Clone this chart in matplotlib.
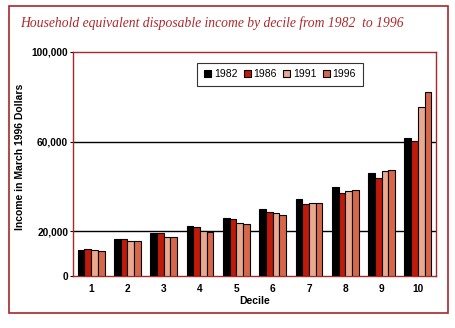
import matplotlib
matplotlib.use("Agg")
import matplotlib.pyplot as plt
import numpy as np
from matplotlib.patches import Rectangle

deciles = ["1", "2", "3", "4", "5", "6", "7", "8", "9", "10"]
years = ["1982", "1986", "1991", "1996"]
v1982 = [11700, 16600, 19200, 22400, 25900, 29800, 34400, 39600, 46200, 61800]
v1986 = [12100, 16600, 19200, 21800, 25300, 28400, 32000, 37000, 43900, 60400]
v1991 = [11600, 15600, 17400, 20000, 23700, 28000, 32400, 38100, 46700, 75400]
v1996 = [11100, 15600, 17400, 19700, 23200, 27400, 32400, 38500, 47400, 82200]
yticks = [0, 20000, 60000, 100000]
ytick_labels = ["0", "20,000", "60,000", "100,000"]
colors = ["#000000", "#c01a0a", "#eaa88e", "#d8674a"]
frame_red = "#a8282a"

fig = plt.figure(figsize=(4.55, 3.28), dpi=100)
fig.patch.set_facecolor("white")

# outer frame
fig.patches.append(Rectangle((9/455, 1-313/328), (448-9)/455, (313-6)/328,
                             transform=fig.transFigure, fill=False,
                             edgecolor=frame_red, linewidth=1.2))

fig.text(20/455, 1-23/328, "Household equivalent disposable income by decile from 1982  to 1996",
         family="Liberation Serif", style="italic", color="#b0282a", fontsize=9.8,
         va="center", ha="left")

ax = fig.add_axes([73/455, 1-276/328, 363/455, 224/328])
x = np.arange(len(deciles))
w = 0.185
series = [v1982, v1986, v1991, v1996]
for i, (vals, c, yr) in enumerate(zip(series, colors, years)):
    ax.bar(x + (i - 1.5) * w, vals, w, color=c, edgecolor="black", linewidth=0.8,
           label=yr, zorder=3)

ax.set_xlim(-0.5, len(deciles) - 0.5)
ax.set_ylim(0, 100000)
ax.set_yticks(yticks)
ax.set_yticklabels(ytick_labels)
ax.set_xticks(x)
ax.set_xticklabels(deciles)
for t in ax.get_xticklabels() + ax.get_yticklabels():
    t.set_family("Liberation Sans")
    t.set_fontweight("bold")
    t.set_fontsize(7.3)
ax.tick_params(axis="x", length=0, pad=6)
ax.tick_params(axis="y", length=2.5, width=0.8, color="black", pad=1)
for g in [20000, 60000]:
    ax.axhline(g, color="black", linewidth=1.0, zorder=1)
for s in ax.spines.values():
    s.set_color(frame_red)
    s.set_linewidth(1.0)

ax.set_xlabel("Decile", family="Liberation Sans", fontweight="bold", fontsize=7.5, labelpad=1)
ax.set_ylabel("Income in March 1996 Dollars", family="Liberation Sans", fontweight="bold",
              fontsize=7.5)
ax.yaxis.set_label_coords(-48/363, 0.53)

leg = ax.legend(loc="center", bbox_to_anchor=(0.570, 0.90), ncol=4, frameon=True,
                fancybox=False, edgecolor="black", handlelength=0.7, handleheight=0.7,
                handletextpad=0.25, columnspacing=0.6, borderpad=0.65,
                prop={"family": "Liberation Sans", "size": 7.5})
leg.get_frame().set_linewidth(0.8)

fig.savefig("out.png", dpi=100, facecolor="white")
